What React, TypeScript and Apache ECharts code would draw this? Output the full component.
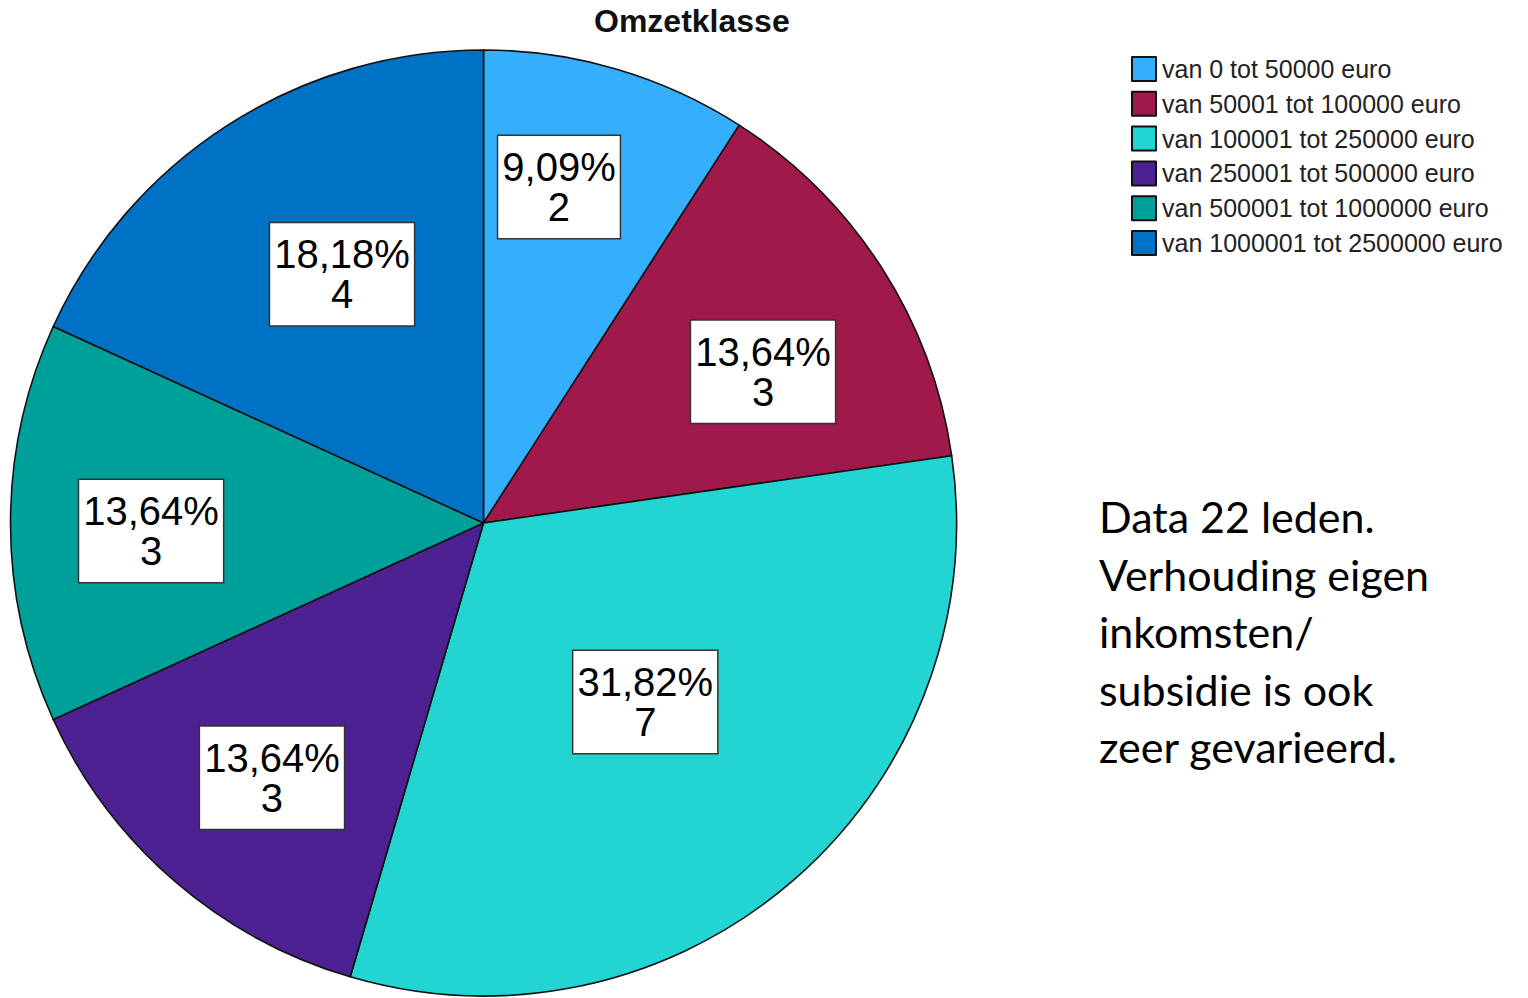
import React, { useEffect, useRef } from "react";
import * as echarts from "echarts";

const categories = [
  "van 0 tot 50000 euro",
  "van 50001 tot 100000 euro",
  "van 100001 tot 250000 euro",
  "van 250001 tot 500000 euro",
  "van 500001 tot 1000000 euro",
  "van 1000001 tot 2500000 euro",
];
const counts = [2, 3, 7, 3, 3, 4];
const percentLabels = ["9,09%", "13,64%", "31,82%", "13,64%", "13,64%", "18,18%"];
const colors = ["#35aefe", "#9f1a4b", "#23d5d2", "#4e2192", "#00a09a", "#0072c5"];
const titleText = "Omzetklasse";
const noteLines = [
  "Data 22 leden.",
  "Verhouding eigen",
  "inkomsten/",
  "subsidie is ook",
  "zeer gevarieerd.",
];

export default function App() {
  const ref = useRef<HTMLDivElement>(null);
  useEffect(() => {
    if (!ref.current) return;
    const chart = echarts.init(ref.current, null, { renderer: "svg" });
    const cx = 483.5;
    const cy = 523;
    const R = 473;
    // label placement relative to each slice: radial fraction and angular shift (deg)
    const labelFactor = [0.728, 0.672, 0.51, 0.7, 0.703, 0.605];
    const labelShift = [-3.7, 4.3, -1.2, -1.2, -1.4, 3.1];
    const total = counts.reduce((a, b) => a + b, 0);
    const midAngles: number[] = [];
    let acc = 0;
    counts.forEach((c) => {
      midAngles.push(((acc + c / 2) / total) * 360);
      acc += c;
    });
    chart.setOption({
      animation: false,
      backgroundColor: "#ffffff",
      title: {
        text: titleText,
        left: 594,
        top: 5,
        padding: 0,
        textStyle: {
          fontFamily: "Liberation Sans",
          fontWeight: "bold",
          fontSize: 32,
          color: "#111",
        },
      },
      legend: {
        orient: "vertical",
        left: 1131,
        top: 56,
        padding: 0,
        itemWidth: 24,
        itemHeight: 24,
        itemGap: 8.8,
        icon: "rect",
        selectedMode: false,
        textStyle: {
          fontFamily: "Liberation Sans",
          fontSize: 25,
          color: "#222",
          padding: [0, 0, 0, 1],
        },
        data: categories,
      },
      graphic: [
        {
          type: "text",
          left: 1099,
          top: 488,
          style: {
            text: noteLines.join("\n"),
            font: "43px Lato",
            lineHeight: 57.5,
            fill: "#000",
          },
        },
      ],
      series: [
        {
          type: "pie",
          center: [cx, cy],
          radius: [0, R],
          startAngle: 90,
          clockwise: true,
          avoidLabelOverlap: false,
          itemStyle: { borderColor: "#111", borderWidth: 1.6 },
          emphasis: { disabled: true },
          label: {
            show: true,
            position: "inside",
            formatter: (p: any) => percentLabels[p.dataIndex] + "\n" + p.value,
            fontFamily: "Liberation Sans",
            fontSize: 40,
            lineHeight: 40,
            color: "#000",
            backgroundColor: "#fff",
            borderColor: "#333",
            borderWidth: 1.5,
            padding: [11, 4, 11, 4],
            align: "center",
          },
          labelLine: { show: false },
          labelLayout: (params: any) => {
            const r = params.labelRect;
            const lx = r.x + r.width / 2;
            const ly = r.y + r.height / 2;
            const i = params.dataIndex;
            const a = ((midAngles[i] + labelShift[i]) * Math.PI) / 180;
            const tx = cx + Math.sin(a) * R * labelFactor[i];
            const ty = cy - Math.cos(a) * R * labelFactor[i];
            return { dx: tx - lx, dy: ty - ly };
          },
          data: categories.map((c, i) => ({
            name: c,
            value: counts[i],
            itemStyle: { color: colors[i] },
          })),
        },
      ],
    });
    return () => chart.dispose();
  }, []);
  return (
    <div
      ref={ref}
      style={{ position: "absolute", left: 0, top: 0, width: 1528, height: 998 }}
    />
  );
}
